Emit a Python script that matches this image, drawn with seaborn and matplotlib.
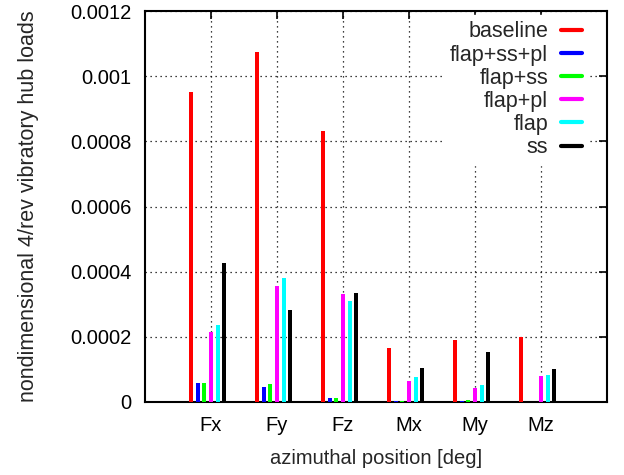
import pandas as pd
import matplotlib
matplotlib.use("Agg")
import matplotlib.pyplot as plt
from matplotlib.lines import Line2D
from matplotlib.ticker import FuncFormatter
import seaborn as sns

# values
components = ["Fx", "Fy", "Fz", "Mx", "My", "Mz"]
cases = ["baseline", "flap+ss+pl", "flap+ss", "flap+pl", "flap", "ss"]
colors = ["#ff0000", "#0000ff", "#00ff00", "#ff00ff", "#00ffff", "#000000"]

baseline = [0.000951, 0.001073, 0.000832, 0.000166, 0.000189, 0.000199]
flap_ss_pl = [0.0000593, 0.000047, 0.0000123, 0.000002, 0.000004, 0.000001]
flap_ss = [0.0000573, 0.0000543, 0.000013, 0.000002, 0.000007, 0.000001]
flap_pl = [0.000214, 0.000357, 0.000331, 0.0000635, 0.000042, 0.0000798]
flap = [0.000235, 0.000381, 0.000310, 0.0000777, 0.000052, 0.0000818]
ss = [0.000426, 0.000283, 0.000334, 0.000105, 0.000153, 0.000102]

yticks = [0, 0.0002, 0.0004, 0.0006, 0.0008, 0.001, 0.0012]

FS = 14.5


def build_frame():
    series = [baseline, flap_ss_pl, flap_ss, flap_pl, flap, ss]
    rows = []
    for case, vals in zip(cases, series):
        for comp, v in zip(components, vals):
            rows.append({"component": comp, "case": case, "load": v})
    return pd.DataFrame(rows)


def main():
    df = build_frame()

    sns.set_style("white")
    plt.rcParams["font.family"] = ["Liberation Sans", "DejaVu Sans"]
    plt.rcParams["font.size"] = FS

    fig = plt.figure(figsize=(6.24, 4.75), dpi=100)
    ax = fig.add_axes([0.2324, 0.1537, 0.7404, 0.8231])

    sns.barplot(data=df, x="component", y="load", hue="case",
                hue_order=cases, palette=colors, order=components,
                width=0.6, gap=0.4, dodge=True, errorbar=None,
                saturation=1, linewidth=0, legend=False, ax=ax, zorder=3)

    # gnuplot puts the tick on the 4th box of each cluster
    pos = [i + 0.05 for i in range(len(components))]
    ax.set_xticks(pos)
    ax.set_xticklabels(components)
    ax.set_xlim(-0.95, 6.05)
    ax.set_ylim(0, 0.0012)
    ax.set_yticks(yticks)
    ax.yaxis.set_major_formatter(FuncFormatter(lambda v, p: "%g" % v))

    ax.grid(True, linestyle=(0, (1, 3)), color="black", linewidth=0.9, zorder=0)
    ax.set_axisbelow(True)
    for s in ax.spines.values():
        s.set_visible(True)
        s.set_color("black")
        s.set_linewidth(1.5)
    ax.tick_params(direction="in", length=6, width=1.2, top=True, right=True,
                   labelsize=FS, pad=10, colors="black")

    ax.set_xlabel("azimuthal position [deg]", fontsize=FS, labelpad=10)
    ax.set_ylabel("nondimensional 4/rev vibratory hub loads", fontsize=15.5,
                  labelpad=22)

    handles = [Line2D([0], [0], color=c, linewidth=3) for c in colors]
    leg = ax.legend(handles, cases, loc="upper right", markerfirst=False,
                    bbox_to_anchor=(0.959, 0.99), borderaxespad=0,
                    frameon=True, framealpha=1, facecolor="white",
                    edgecolor="white", fontsize=15.5, handlelength=0.95,
                    labelspacing=0.1, borderpad=0.3,
                    handletextpad=0.6, fancybox=False)
    leg.set_zorder(5)

    fig.savefig("out.png", dpi=100)


if __name__ == "__main__":
    main()
